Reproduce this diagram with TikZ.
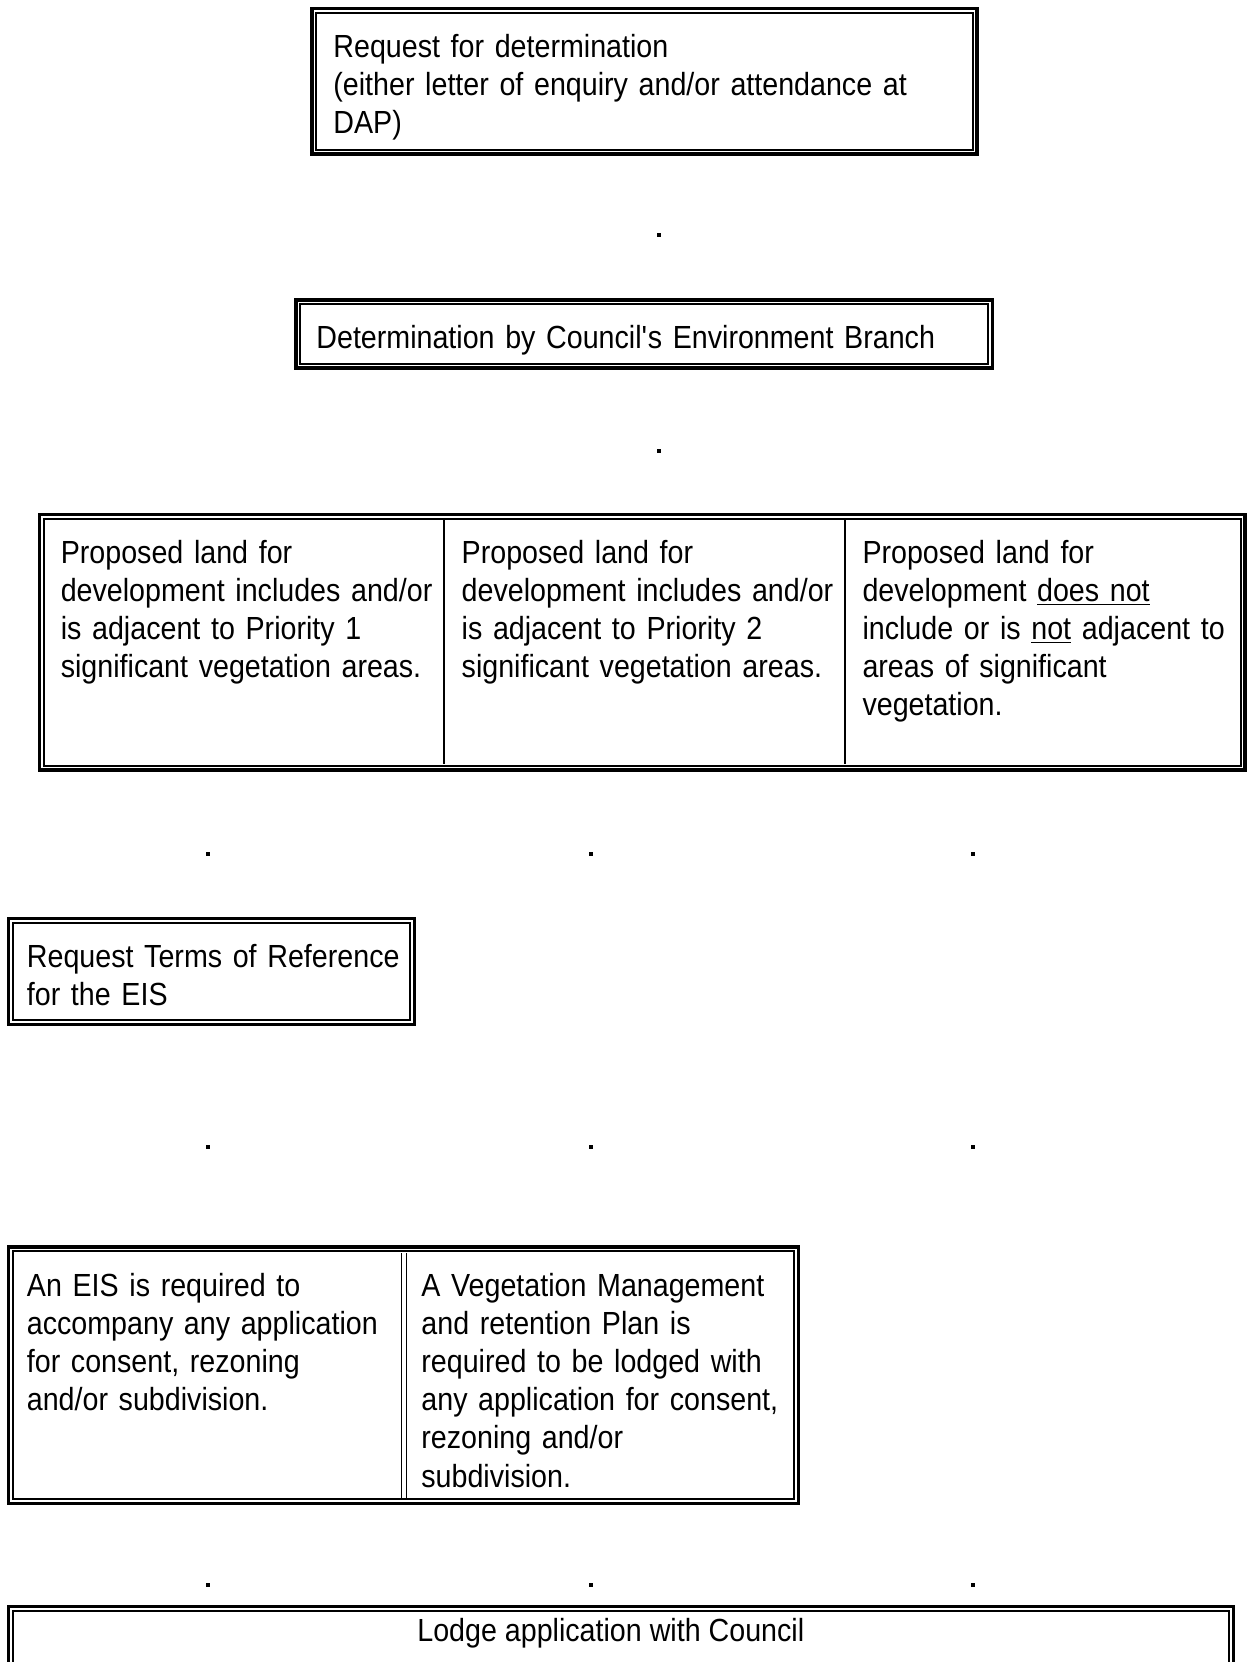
\documentclass[tikz,border=0pt]{standalone}
\usepackage{fontspec}
\setmainfont[FakeStretch=0.895]{Liberation Sans}
\usetikzlibrary{fit}
\begin{document}
\begin{tikzpicture}[x=0.5pt,y=-0.5pt,
  obox/.style={draw, line width=1.7pt, inner sep=0pt},
  ibox/.style={line width=1pt},
  divline/.style={line width=0.9pt},
  txt/.style={align=left, inner sep=0pt, text width=330pt, font=\fontsize{16}{19.1}\selectfont},
  ctxt/.style={inner sep=0pt, font=\fontsize{16}{19.1}\selectfont},
  dotn/.style={fill, rectangle, inner sep=0pt, minimum size=2pt}]
\clip (0,0) rectangle (1247,1662);
\fill[white] (0,0) rectangle (1247,1662);

% Box 1
\node[obox, fit={(312,8.5) (977,154)}] (b1) {};
\draw[ibox] ([shift={(6,6)}]b1.north west) rectangle ([shift={(-6,-6)}]b1.south east);
\node[txt, anchor=base west] (t1) at (333,57) {Request for determination\\(either letter of enquiry and/or attendance at\\DAP)};

\node[dotn] (d1) at (658.5,235.4) {};

% Box 2
\node[obox, fit={(296,300) (992.5,368)}] (b2) {};
\draw[ibox] ([shift={(6,6)}]b2.north west) rectangle ([shift={(-6,-6)}]b2.south east);
\node[txt, anchor=base west] (t2) at (316,348) {Determination by Council\textquotesingle s Environment Branch};

\node[dotn] (d2) at (658.5,450.7) {};

% Box 3 (three columns)
\node[obox, fit={(39.2,514.3) (1245,770)}] (b3) {};
\draw[ibox] ([shift={(6,6)}]b3.north west) rectangle ([shift={(-6,-6)}]b3.south east);
\coordinate (c3a) at (444.3,520.3);
\coordinate (c3b) at (444.3,764);
\coordinate (c3c) at (845.2,520.3);
\coordinate (c3d) at (845.2,764);
\draw[divline] (c3a) -- (c3b);
\draw[divline] (c3c) -- (c3d);
\node[txt, anchor=base west] (t3a) at (60.4,563) {Proposed land for\\development includes and/or\\is adjacent to Priority 1\\significant vegetation areas.};
\node[txt, anchor=base west] (t3b) at (461.3,563) {Proposed land for\\development includes and/or\\is adjacent to Priority 2\\significant vegetation areas.};
\node[txt, anchor=base west] (t3c) at (862.1,563) {Proposed land for\\development \underline{does not}\\include or is \underline{not} adjacent to\\areas of significant\\vegetation.};

\node[dotn] (d3a) at (207.8,853.6) {};
\node[dotn] (d3b) at (590.6,853.6) {};
\node[dotn] (d3c) at (973.4,853.6) {};

% Box 4
\node[obox, fit={(8.5,918.3) (414.6,1024.3)}] (b4) {};
\draw[ibox] ([shift={(6,6)}]b4.north west) rectangle ([shift={(-6,-6)}]b4.south east);
\node[txt, anchor=base west] (t4) at (26.5,967) {Request Terms of Reference\\for the EIS};

\node[dotn] (d4a) at (207.8,1147.4) {};
\node[dotn] (d4b) at (590.6,1147.4) {};
\node[dotn] (d4c) at (973.4,1147.4) {};

% Box 5 (two columns)
\node[obox, fit={(8.5,1247) (798.5,1503.6)}] (b5) {};
\draw[ibox] ([shift={(6,6)}]b5.north west) rectangle ([shift={(-6,-6)}]b5.south east);
\coordinate (c5a) at (401.5,1253);
\coordinate (c5b) at (401.5,1497.6);
\coordinate (c5c) at (406.5,1253);
\coordinate (c5d) at (406.5,1497.6);
\draw[divline] (c5a) -- (c5b);
\draw[divline] (c5c) -- (c5d);
\node[txt, anchor=base west] (t5a) at (26.5,1296) {An EIS is required to\\accompany any application\\for consent, rezoning\\and/or subdivision.};
\node[txt, anchor=base west] (t5b) at (421,1296) {A Vegetation Management\\and retention Plan is\\required to be lodged with\\any application for consent,\\rezoning and/or\\subdivision.};

\node[dotn] (d5a) at (207.8,1585.3) {};
\node[dotn] (d5b) at (590.6,1585.3) {};
\node[dotn] (d5c) at (973.4,1585.3) {};

% Box 6
\node[obox, fit={(8.5,1606.5) (1233.3,1720)}] (b6) {};
\draw[ibox] ([shift={(6,6)}]b6.north west) rectangle ([shift={(-6,-6)}]b6.south east);
\node[ctxt, anchor=base] (t6) at (610.8,1641.5) {Lodge application with Council};
\end{tikzpicture}
\end{document}
